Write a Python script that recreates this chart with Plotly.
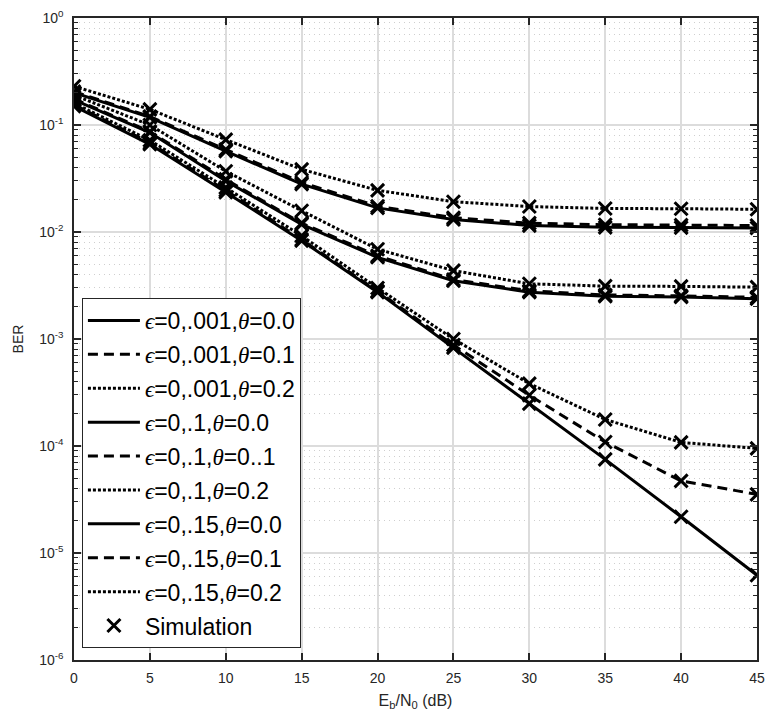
import plotly.graph_objects as go

snr_db = [0, 5, 10, 15, 20, 25, 30, 35, 40, 45]

ber_e001_t00 = [0.15, 0.066, 0.0235, 0.0083, 0.00274, 0.00083, 0.000249, 7.5e-5, 2.18e-5, 6.2e-6]
ber_e001_t01 = [0.155, 0.068, 0.0245, 0.0085, 0.0028, 0.00088, 0.000298, 0.000109, 4.72e-5, 3.53e-5]
ber_e001_t02 = [0.16, 0.072, 0.026, 0.0092, 0.0030, 0.0010, 0.000383, 0.000177, 0.000108, 9.5e-5]

ber_e01_t00 = [0.172, 0.085, 0.030, 0.0118, 0.0058, 0.0035, 0.00274, 0.00251, 0.00247, 0.00238]
ber_e01_t01 = [0.175, 0.087, 0.031, 0.0121, 0.0060, 0.0036, 0.00282, 0.00258, 0.00253, 0.00245]
ber_e01_t02 = [0.19, 0.100, 0.037, 0.0158, 0.0069, 0.00436, 0.00328, 0.00312, 0.0031, 0.00305]

ber_e015_t00 = [0.20, 0.118, 0.057, 0.028, 0.0168, 0.0131, 0.01148, 0.01106, 0.0110, 0.0109]
ber_e015_t01 = [0.205, 0.120, 0.059, 0.029, 0.0174, 0.0136, 0.0121, 0.0117, 0.0116, 0.0115]
ber_e015_t02 = [0.23, 0.140, 0.073, 0.0385, 0.0245, 0.0192, 0.0173, 0.0166, 0.0165, 0.0163]

series_labels = [
    ("0,.001", "0.0"), ("0,.001", "0.1"), ("0,.001", "0.2"),
    ("0,.1", "0.0"), ("0,.1", "0..1"), ("0,.1", "0.2"),
    ("0,.15", "0.0"), ("0,.15", "0.1"), ("0,.15", "0.2"),
]
series_values = [
    ber_e001_t00, ber_e001_t01, ber_e001_t02,
    ber_e01_t00, ber_e01_t01, ber_e01_t02,
    ber_e015_t00, ber_e015_t01, ber_e015_t02,
]
dashes = ["solid", "10px,6px", "3px,2px"] * 3

ytick_vals = [1e-6, 1e-5, 1e-4, 1e-3, 1e-2, 1e-1, 1]
ytick_text = ["10<sup>-6</sup>", "10<sup>-5</sup>", "10<sup>-4</sup>", "10<sup>-3</sup>",
              "10<sup>-2</sup>", "10<sup>-1</sup>", "10<sup>0</sup>"]
yminor_vals = [m * 10.0 ** e for e in range(-6, 0) for m in range(2, 10)]

greek = "<span style=\"font-family:'Liberation Serif'\"><i>%s</i></span>"

fig = go.Figure()
for i, ((eps, th), vals) in enumerate(zip(series_labels, series_values)):
    name = greek % "\u03f5" + "=" + eps + "," + greek % "\u03b8" + "=" + th
    fig.add_trace(go.Scatter(
        x=snr_db, y=vals, mode="lines", name=name, legendgroup="g%d" % i,
        line=dict(color="black", width=3, dash=dashes[i]),
    ))
for i, vals in enumerate(series_values):
    fig.add_trace(go.Scatter(
        x=snr_db, y=vals, mode="markers", name="Simulation",
        legendgroup="sim", showlegend=(i == 0),
        marker=dict(symbol="x-thin", size=13, color="black",
                    line=dict(color="black", width=3)),
    ))

axis_col = "#262626"
fig.update_layout(
    width=773, height=716,
    margin=dict(l=74, r=8, t=17, b=56),
    paper_bgcolor="white", plot_bgcolor="white",
    font=dict(family="Liberation Sans, Arial, sans-serif", size=14, color=axis_col),
    showlegend=True,
    legend=dict(
        x=0.0116, y=0.0187, xanchor="left", yanchor="bottom",
        bgcolor="white", bordercolor=axis_col, borderwidth=1,
        font=dict(size=23, color="black", family="Liberation Sans, Arial, sans-serif"),
        tracegroupgap=1, itemwidth=52,
    ),
    xaxis=dict(
        range=[0, 45], dtick=5, tick0=0,
        showline=True, linecolor=axis_col, linewidth=1.5, mirror="ticks",
        ticks="inside", ticklen=7, tickwidth=1.5, tickcolor=axis_col,
        showgrid=True, gridcolor="#dcdcdc", gridwidth=1.5, zeroline=False,
        title=dict(text="E<sub>b</sub>/N<sub>0</sub> (dB)", font=dict(size=16), standoff=10),
        tickfont=dict(size=14), ticklabelstandoff=4,
    ),
    yaxis=dict(
        type="log", range=[-6, 0],
        tickmode="array", tickvals=ytick_vals, ticktext=ytick_text,
        showline=True, linecolor=axis_col, linewidth=1.5, mirror="ticks",
        ticks="inside", ticklen=7, tickwidth=1.5, tickcolor=axis_col,
        showgrid=True, gridcolor="#dcdcdc", gridwidth=1.5, zeroline=False,
        title=dict(text="BER", font=dict(size=14), standoff=12),
        tickfont=dict(size=14), ticklabelstandoff=6,
        minor=dict(tickmode="array", tickvals=yminor_vals, ticks="inside", ticklen=4,
                   tickwidth=1.2, tickcolor=axis_col, showgrid=True,
                   gridcolor="#cfcfcf", griddash="1px,4px", gridwidth=1),
    ),
)

fig.write_html("out.html")
